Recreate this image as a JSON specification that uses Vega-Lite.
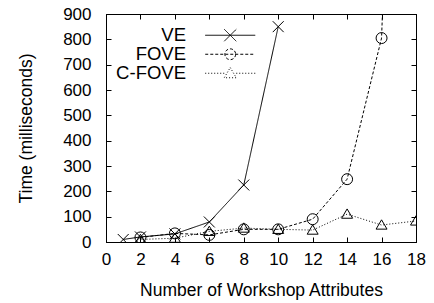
{
  "$schema": "https://vega.github.io/schema/vega-lite/v6.json",
  "width": 310,
  "height": 228,
  "autosize": "none",
  "padding": {"left": 106, "top": 14, "right": 18, "bottom": 61},
  "config": {
    "font": "Liberation Sans",
    "view": {"stroke": "black", "strokeWidth": 1},
    "axis": {
      "grid": false,
      "domainColor": "black",
      "tickColor": "black",
      "labelColor": "black",
      "titleColor": "black",
      "labelFont": "Liberation Sans",
      "titleFont": "Liberation Sans",
      "labelFontSize": 17,
      "titleFontSize": 17.5,
      "titleFontWeight": "normal",
      "tickSize": -5
    },
    "legend": {
      "labelFont": "Liberation Sans",
      "labelFontSize": 18.5,
      "labelColor": "black"
    }
  },
  "data": {
    "values": [
      {"n": 1, "series": "VE", "time": 10},
      {"n": 2, "series": "VE", "time": 20},
      {"n": 4, "series": "VE", "time": 32},
      {"n": 6, "series": "VE", "time": 79},
      {"n": 8, "series": "VE", "time": 225},
      {"n": 10, "series": "VE", "time": 850},
      {"n": 2, "series": "FOVE", "time": 18},
      {"n": 4, "series": "FOVE", "time": 34},
      {"n": 6, "series": "FOVE", "time": 28},
      {"n": 8, "series": "FOVE", "time": 50},
      {"n": 10, "series": "FOVE", "time": 50},
      {"n": 12, "series": "FOVE", "time": 90},
      {"n": 14, "series": "FOVE", "time": 248},
      {"n": 16, "series": "FOVE", "time": 805},
      {"n": 18, "series": "FOVE", "time": 4500},
      {"n": 2, "series": "C-FOVE", "time": 10},
      {"n": 4, "series": "C-FOVE", "time": 15},
      {"n": 6, "series": "C-FOVE", "time": 42},
      {"n": 8, "series": "C-FOVE", "time": 55},
      {"n": 10, "series": "C-FOVE", "time": 50},
      {"n": 12, "series": "C-FOVE", "time": 47},
      {"n": 14, "series": "C-FOVE", "time": 110},
      {"n": 16, "series": "C-FOVE", "time": 67},
      {"n": 18, "series": "C-FOVE", "time": 83}
    ]
  },
  "layer": [
    {
      "mark": {"type": "line", "clip": true, "color": "black", "strokeWidth": 1},
      "encoding": {
        "x": {
          "field": "n", "type": "quantitative",
          "scale": {"domain": [0, 18], "nice": false},
          "axis": {
            "title": "Number of Workshop Attributes",
            "values": [0, 2, 4, 6, 8, 10, 12, 14, 16, 18],
            "labelPadding": 14,
            "titlePadding": 14,
            "labelFlush": false,
            "encode": {"labels": {"update": {"dx": {"signal": "datum.value < 10 ? 3 : 0"}}}}
          }
        },
        "y": {
          "field": "time", "type": "quantitative",
          "scale": {"domain": [0, 900], "nice": false},
          "axis": {
            "title": "Time (milliseconds)",
            "values": [0, 100, 200, 300, 400, 500, 600, 700, 800, 900],
            "labelPadding": 20,
            "titlePadding": 27,
            "labelFlush": false
          }
        },
        "strokeDash": {
          "field": "series", "type": "nominal",
          "scale": {"domain": ["VE", "FOVE", "C-FOVE"], "range": [[1, 0], [3, 2], [1, 2]]},
          "legend": {
            "title": null,
            "orient": "none",
            "legendX": 115,
            "legendY": 12,
            "padding": 0,
            "symbolType": "circle",
            "symbolSize": 144,
            "labelAlign": "right",
            "labelOffset": -46,
            "rowPadding": -4,
            "symbolStrokeColor": "black",
            "symbolFillColor": "transparent",
            "symbolStrokeWidth": 1,
            "encode": {
              "labels": {
                "update": {
                  "x": {"value": -35},
                  "align": {"value": "right"}
                }
              },
              "symbols": {
                "update": {
                  "strokeDash": {"value": []},
                  "fill": {"value": "transparent"},
                  "stroke": {"value": "black"},
                  "shape": {"signal": "datum.value == 'VE' ? 'M-4.17,0L4.17,0M-1,-1L1,1M-1,1L1,-1' : datum.value == 'FOVE' ? 'M-4.17,0L-3.67,0M-3.33,0L-2.83,0M-2.5,0L-2,0M-1.67,0L-1.17,0M-0.83,0L-0.33,0M0,0L0.5,0M0.83,0L1.33,0M1.67,0L2.17,0M2.5,0L3,0M3.33,0L3.83,0M0.9,0A0.9,0.9,0,1,1,-0.9,0A0.9,0.9,0,1,1,0.9,0' : 'M-4.17,0L-4,0M-3.67,0L-3.5,0M-3.17,0L-3,0M-2.67,0L-2.5,0M-2.17,0L-2,0M-1.67,0L-1.5,0M-1.17,0L-1,0M1,0L1.17,0M1.5,0L1.67,0M2,0L2.17,0M2.5,0L2.67,0M3,0L3.17,0M3.5,0L3.67,0M4,0L4.17,0M0,-0.95L1,0.75L-1,0.75Z'"}
                }
              }
            }
          }
        }
      }
    },
    {
      "transform": [{"filter": "datum.series == 'VE'"}],
      "mark": {"type": "point", "clip": true, "filled": false, "color": "black", "strokeWidth": 1, "size": 120, "opacity": 1, "shape": "M-1,-1L1,1M-1,1L1,-1"},
      "encoding": {
        "x": {"field": "n", "type": "quantitative", "axis": null},
        "y": {"field": "time", "type": "quantitative", "axis": null}
      }
    },
    {
      "transform": [{"filter": "datum.series == 'FOVE'"}],
      "mark": {"type": "point", "clip": true, "filled": false, "color": "black", "strokeWidth": 1, "size": 120, "opacity": 1, "shape": "circle"},
      "encoding": {
        "x": {"field": "n", "type": "quantitative", "axis": null},
        "y": {"field": "time", "type": "quantitative", "axis": null}
      }
    },
    {
      "transform": [{"filter": "datum.series == 'C-FOVE'"}],
      "mark": {"type": "point", "clip": true, "filled": false, "color": "black", "strokeWidth": 1, "size": 120, "opacity": 1, "shape": "M0,-0.95L1,0.75L-1,0.75Z"},
      "encoding": {
        "x": {"field": "n", "type": "quantitative", "axis": null},
        "y": {"field": "time", "type": "quantitative", "axis": null}
      }
    },
    {
      "mark": {"type": "point", "opacity": 0},
      "encoding": {
        "x": {
          "field": "n", "type": "quantitative",
          "axis": {"orient": "top", "labels": false, "title": null, "values": [0, 2, 4, 6, 8, 10, 12, 14, 16, 18]}
        },
        "y": {
          "field": "time", "type": "quantitative",
          "axis": {"orient": "right", "labels": false, "title": null, "values": [0, 100, 200, 300, 400, 500, 600, 700, 800, 900]}
        }
      }
    }
  ],
  "resolve": {"axis": {"x": "independent", "y": "independent"}}
}
